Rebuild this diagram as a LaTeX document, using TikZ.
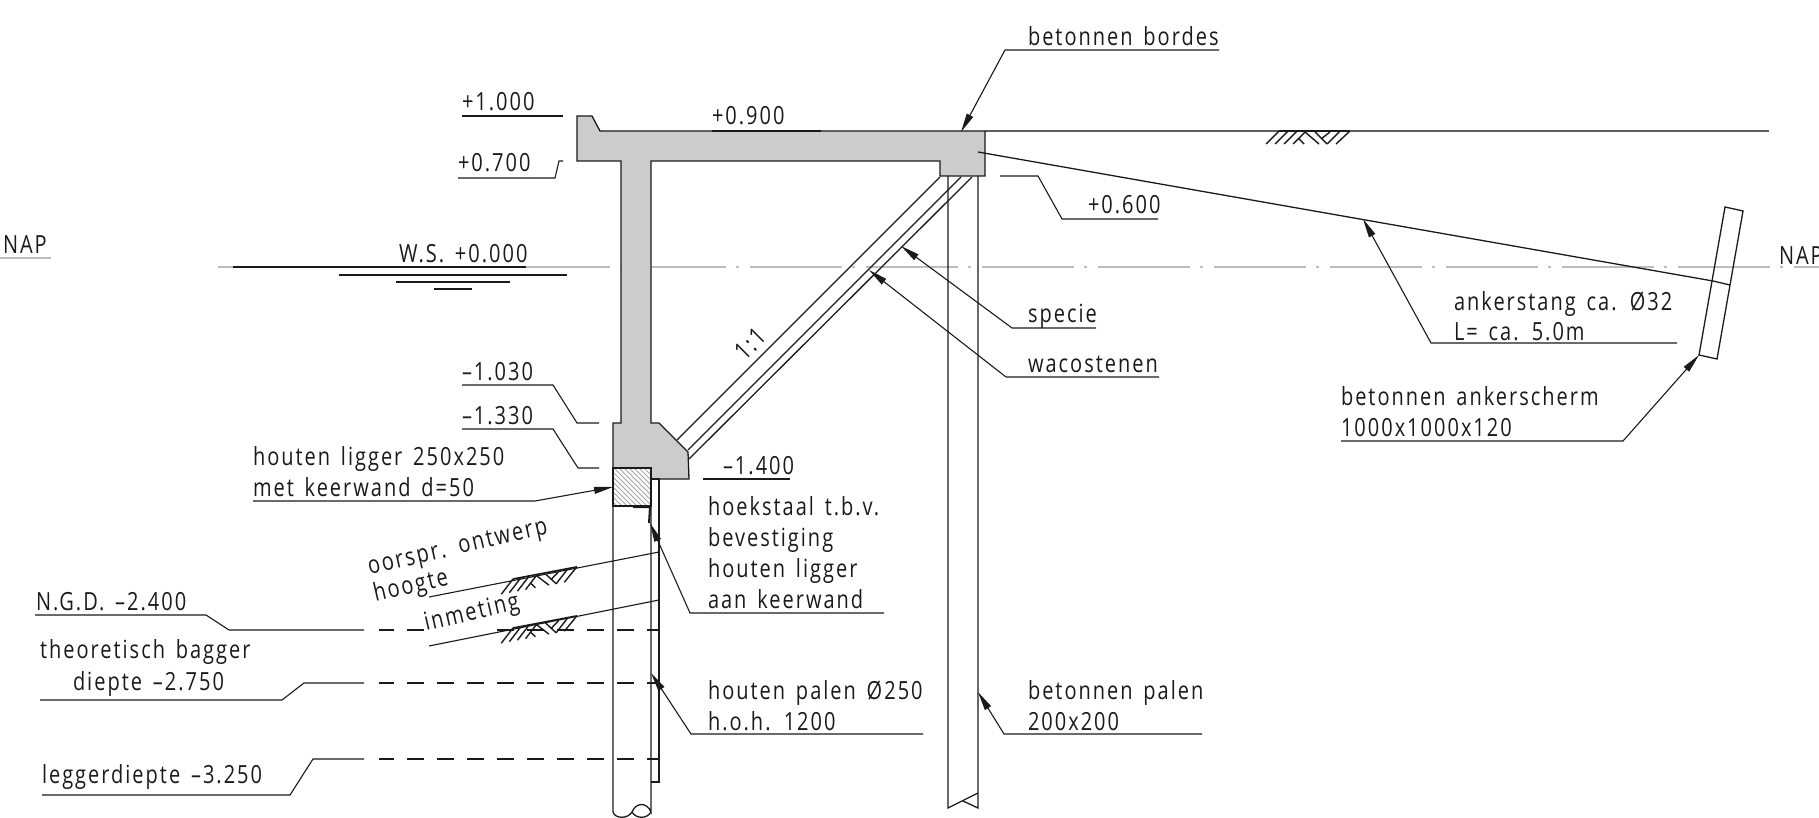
\documentclass[tikz,border=0pt]{standalone}
\usepackage{fontspec}
\setmainfont[LetterSpace=8,FakeStretch=0.8,WordSpace=1.5]{Open Sans}
\usetikzlibrary{arrows.meta}
\definecolor{ink}{HTML}{1A1A1A}
\definecolor{concrete}{HTML}{CCCCCC}
\definecolor{axisgray}{HTML}{BDBDBD}
\tikzset{
  x=1pt,y=-1pt,
  lbl/.style={anchor=base west,inner sep=0pt,outer sep=0pt,text=ink,font=\fontsize{25}{25}\selectfont},
  ln/.style={draw=ink,line width=1.3pt},
  lead/.style={draw=ink,line width=1.1pt},
  tip/.style={-{Triangle[length=19pt,width=7pt]}},
  dashline/.style={draw=ink,line width=1.7pt,dash pattern=on 16.7pt off 13.3pt,dash phase=2pt},
  hatchmark/.pic={
    \draw[draw=ink,line width=1.4pt]
      (0,0)--(-13,13) (9,0)--(-4,13) (18,0)--(5,13) (27,0)--(14,13)
      (26,1)--(40,13) (19,7)--(25,13) (36,1)--(48,13)
      (71,0)--(57,13) (61,0)--(48,13) (51,1)--(42,8);
    \draw[draw=ink,line width=1.6pt] (0,0)--(71,0);
  }
}
\begin{document}
\begin{tikzpicture}
\useasboundingbox (0,0) rectangle (1819,818);
% axis
\draw[axisgray,line width=1.3pt,dash pattern=on 92pt off 10pt on 3pt off 11pt,dash phase=48pt] (218,267)--(1819,267);
% ground line
\draw[draw=ink!70,line width=1.2pt] (985,131)--(1769,131);
\pic at (1279,131) {hatchmark};
% concrete
\draw[ln,fill=concrete] (577,116)--(592,116)--(600,131)--(985,131)--(985,176)--(940,176)--(940,161)--(651,161)--(651,423)--(659,423)--(688,452)--(689,479)--(651,479)--(651,468)--(613,468)--(613,423)--(621,423)--(621,161)--(577,161)--cycle;
% sloping block
\draw[ln] (677,440)--(940,177);
\draw[ln] (688,450)--(961,177);
\draw[ln] (689,459)--(972,177);
% timber beam
\begin{scope}
\clip (613,468) rectangle (651,506);
\foreach \k in {0,5,...,90}{\draw[draw=gray!70,line width=0.8pt] (605+\k,514)--(605+\k-50,464);}
\end{scope}
\draw[ln] (613,468) rectangle (651,506);
% timber pile
\draw[ln] (613,506)--(613,812) .. controls (615,819) and (628,819) .. (632,812) .. controls (636,802) and (647,802) .. (651,812)--(651,506);
\draw[ln] (632,812) .. controls (636,819) and (647,819) .. (651,812);
% sheet
\draw[ln] (651,479) -- (659,479) -- (659,782) -- (651,782);
% angle steel
\draw[draw=ink,line width=2pt] (633,507)--(650,507)--(649,523);
% concrete pile
\draw[ln] (948,176)--(948,808)--(978,793);
\draw[ln] (978,176)--(978,808)--(963,801);
% anchor plate
\draw[ln] (1725,207)--(1743,211)--(1717,359)--(1699,355)--cycle;
\draw[ln] (978,152)--(1713,281)--(1730,285);
% water
\draw[lead] (233,267)--(526,267);
\draw[draw=ink,line width=1.7pt] (339,275)--(567,275);
\draw[draw=ink,line width=1.7pt] (396,282)--(510,282);
\draw[draw=ink,line width=1.7pt] (434,289)--(472,289);
% sloped levels
\draw[lead] (429,597)--(659,552);
\draw[lead] (429,646)--(659,600);
\pic[yslant=0.19,xscale=0.9] at (513,579) {hatchmark};
\pic[yslant=0.19,xscale=0.9] at (513,628) {hatchmark};
% dashed levels
\draw[dashline] (379,630)--(424,630);
\draw[dashline,dash phase=0pt] (497,630)--(660,630);
\draw[dashline] (379,683)--(660,683);
\draw[dashline] (379,759)--(660,759);
% leaders
\draw[draw=axisgray,line width=1.3pt] (0,258)--(51,258);
\draw[lead] (462,116)--(563,116);
\draw[lead] (458,178)--(555,178)--(559,161)--(563,161);
\draw[draw=ink,line width=1.6pt] (712,131)--(821,131);
\draw[lead] (1000,176)--(1038,176)--(1062,219)--(1158,219);
\draw[lead,tip] (1219,50)--(1005,50)--(961,132);
\draw[lead,tip] (1096,328)--(1012,328)--(901,246);
\draw[lead,tip] (1159,377)--(1006,377)--(869,270);
\draw[lead,tip] (1677,343)--(1431,343)--(1363,219);
\draw[lead,tip] (1341,441)--(1623,441)--(1699,355);
\draw[lead] (462,385)--(553,385)--(577,423)--(599,423);
\draw[lead] (462,429)--(553,429)--(578,468)--(599,468);
\draw[lead] (703,479)--(790,479);
\draw[lead,tip] (253,501)--(535,501)--(613,487);
\draw[lead,tip] (884,613)--(690,613)--(650,523);
\draw[lead,tip] (923,734)--(691,734)--(651,673);
\draw[lead,tip] (1202,734)--(1004,734)--(978,692);
\draw[lead] (35,615)--(206,615)--(229,630)--(364,630);
\draw[lead] (40,700)--(282,700)--(304,683)--(364,683);
\draw[lead] (42,795)--(290,795)--(313,759)--(364,759);
% labels
\node[lbl] (tBordes) at (1028,46) {betonnen bordes};
\node[lbl] (tA) at (462,111) {+1.000};
\node[lbl] (tB) at (458,172) {+0.700};
\node[lbl] (tC) at (712,125) {+0.900};
\node[lbl] (tD) at (1088,214) {+0.600};
\node[lbl] (tNapL) at (3,254) {NAP};
\node[lbl] (tWs) at (399,262) {W.S. +0.000};
\node[lbl] (tNapR) at (1779,265) {NAP};
\node[lbl] (tAnk1) at (1454,310) {ankerstang ca. Ø32};
\node[lbl] (tAnk2) at (1454,340) {L= ca. 5.0m};
\node[lbl] (tScherm1) at (1341,405) {betonnen ankerscherm};
\node[lbl] (tScherm2) at (1341,436) {1000x1000x120};
\node[lbl] (tSpecie) at (1028,322) {specie};
\node[lbl] (tWaco) at (1028,372) {wacostenen};
\node[lbl,rotate=45,anchor=center] (tSlope) at (750,344) {1:1};
\node[lbl] (tE) at (462,380) {–1.030};
\node[lbl] (tF) at (462,424) {–1.330};
\node[lbl] (tG) at (723,474) {–1.400};
\node[lbl] (tLig1) at (253,465) {houten ligger 250x250};
\node[lbl] (tLig2) at (253,496) {met keerwand d=50};
\node[lbl] (tH1) at (708,515) {hoekstaal t.b.v.};
\node[lbl] (tH2) at (708,546) {bevestiging};
\node[lbl] (tH3) at (708,577) {houten ligger};
\node[lbl] (tH4) at (708,608) {aan keerwand};
\node[lbl] (tP1) at (708,699) {houten palen Ø250};
\node[lbl] (tP2) at (708,730) {h.o.h. 1200};
\node[lbl] (tQ1) at (1028,699) {betonnen palen};
\node[lbl] (tQ2) at (1028,730) {200x200};
\node[lbl] (tNgd) at (36,610) {N.G.D. –2.400};
\node[lbl] (tBag1) at (40,658) {theoretisch bagger};
\node[lbl] (tBag2) at (73,690) {diepte –2.750};
\node[lbl] (tLeg) at (42,783) {leggerdiepte –3.250};
\node[lbl,rotate=13,anchor=center] (tO1) at (458,549) {oorspr. ontwerp};
\node[lbl,rotate=13,anchor=center] (tO2) at (411,587) {hoogte};
\node[lbl,rotate=13,anchor=center] (tO3) at (472,614) {inmeting};
\end{tikzpicture}
\end{document}
